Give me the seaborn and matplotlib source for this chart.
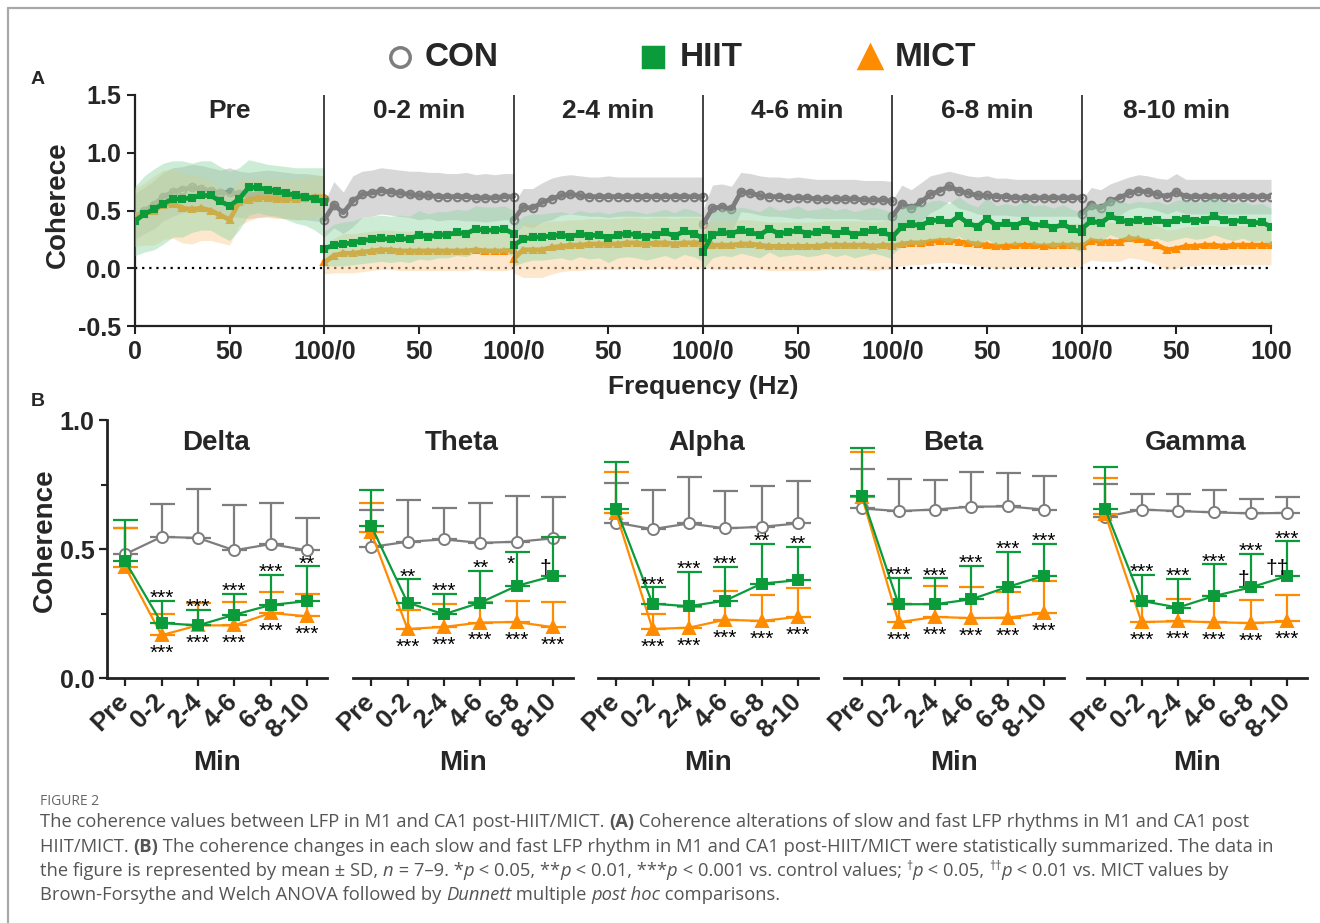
import numpy as np
import matplotlib
matplotlib.use("Agg")
import matplotlib.pyplot as plt
import matplotlib.transforms as mtransforms
import seaborn as sns
from matplotlib.lines import Line2D

sns.set_theme(style="ticks")
plt.rcParams['font.family'] = ['Liberation Sans', 'DejaVu Sans']

# ---------------- DATA ----------------
GROUPS = ['CON', 'HIIT', 'MICT']
SEGMENTS = ['Pre', '0-2 min', '2-4 min', '4-6 min', '6-8 min', '8-10 min']
FREQ_HZ = [0, 5, 10, 15, 20, 25, 30, 35, 40, 45, 50, 55, 60, 65, 70, 75, 80, 85, 90, 95, 100]
A_XTICK_LABELS = ['0', '50', '100/0', '50', '100/0', '50', '100/0', '50', '100/0', '50', '100/0', '50', '100']

A_CON_MEAN = [
    [0.45, 0.50, 0.55, 0.62, 0.66, 0.68, 0.70, 0.69, 0.67, 0.65, 0.66, 0.64, 0.63, 0.64, 0.65, 0.64, 0.63, 0.62, 0.62, 0.61, 0.60],
    [0.42, 0.55, 0.48, 0.58, 0.64, 0.65, 0.67, 0.66, 0.65, 0.64, 0.63, 0.63, 0.62, 0.62, 0.62, 0.62, 0.61, 0.61, 0.61, 0.62, 0.62],
    [0.42, 0.53, 0.52, 0.57, 0.60, 0.63, 0.64, 0.63, 0.62, 0.62, 0.62, 0.62, 0.62, 0.62, 0.62, 0.62, 0.62, 0.62, 0.62, 0.62, 0.62],
    [0.38, 0.52, 0.53, 0.51, 0.66, 0.65, 0.63, 0.62, 0.62, 0.61, 0.61, 0.61, 0.60, 0.60, 0.60, 0.60, 0.60, 0.59, 0.59, 0.59, 0.58],
    [0.45, 0.56, 0.52, 0.57, 0.64, 0.67, 0.71, 0.67, 0.65, 0.63, 0.63, 0.62, 0.62, 0.61, 0.61, 0.61, 0.61, 0.61, 0.61, 0.61, 0.61],
    [0.47, 0.55, 0.52, 0.58, 0.61, 0.65, 0.67, 0.66, 0.64, 0.62, 0.66, 0.62, 0.62, 0.62, 0.62, 0.62, 0.62, 0.62, 0.62, 0.62, 0.62],
]
A_CON_SD = [
    [0.20, 0.20, 0.21, 0.21, 0.21, 0.20, 0.20, 0.20, 0.20, 0.20, 0.21, 0.20, 0.20, 0.20, 0.20, 0.20, 0.20, 0.20, 0.20, 0.20, 0.20],
    [0.15, 0.20, 0.18, 0.22, 0.20, 0.20, 0.20, 0.20, 0.20, 0.20, 0.21, 0.20, 0.21, 0.20, 0.20, 0.21, 0.20, 0.21, 0.20, 0.20, 0.20],
    [0.14, 0.16, 0.17, 0.17, 0.18, 0.17, 0.17, 0.17, 0.17, 0.17, 0.18, 0.17, 0.17, 0.17, 0.17, 0.17, 0.17, 0.17, 0.17, 0.17, 0.17],
    [0.13, 0.20, 0.20, 0.20, 0.17, 0.17, 0.17, 0.17, 0.17, 0.17, 0.18, 0.17, 0.17, 0.17, 0.17, 0.17, 0.17, 0.17, 0.17, 0.17, 0.17],
    [0.14, 0.16, 0.16, 0.17, 0.16, 0.15, 0.13, 0.15, 0.15, 0.16, 0.17, 0.16, 0.16, 0.16, 0.16, 0.16, 0.16, 0.16, 0.16, 0.16, 0.16],
    [0.12, 0.15, 0.16, 0.15, 0.15, 0.14, 0.14, 0.14, 0.14, 0.15, 0.16, 0.15, 0.15, 0.15, 0.15, 0.15, 0.15, 0.15, 0.15, 0.15, 0.15],
]
A_HIIT_MEAN = [
    [0.41, 0.47, 0.51, 0.56, 0.60, 0.60, 0.61, 0.63, 0.63, 0.58, 0.54, 0.60, 0.70, 0.70, 0.68, 0.67, 0.65, 0.63, 0.62, 0.60, 0.57],
    [0.17, 0.20, 0.21, 0.22, 0.24, 0.25, 0.26, 0.25, 0.26, 0.25, 0.29, 0.27, 0.29, 0.29, 0.31, 0.30, 0.34, 0.33, 0.33, 0.34, 0.30],
    [0.20, 0.25, 0.27, 0.27, 0.28, 0.29, 0.27, 0.30, 0.28, 0.29, 0.26, 0.29, 0.30, 0.29, 0.27, 0.29, 0.31, 0.28, 0.32, 0.30, 0.26],
    [0.14, 0.29, 0.31, 0.30, 0.33, 0.31, 0.29, 0.34, 0.30, 0.31, 0.33, 0.30, 0.31, 0.33, 0.30, 0.32, 0.29, 0.31, 0.33, 0.31, 0.28],
    [0.27, 0.36, 0.38, 0.37, 0.41, 0.42, 0.39, 0.45, 0.39, 0.36, 0.43, 0.37, 0.39, 0.37, 0.41, 0.37, 0.38, 0.35, 0.38, 0.34, 0.31],
    [0.34, 0.41, 0.39, 0.45, 0.42, 0.40, 0.42, 0.41, 0.42, 0.39, 0.42, 0.43, 0.41, 0.42, 0.45, 0.42, 0.40, 0.42, 0.39, 0.40, 0.36],
]
A_HIIT_SD = [
    [0.30, 0.33, 0.35, 0.35, 0.33, 0.33, 0.30, 0.30, 0.30, 0.30, 0.30, 0.27, 0.24, 0.22, 0.22, 0.22, 0.23, 0.24, 0.25, 0.27, 0.30],
    [0.15, 0.18, 0.19, 0.19, 0.20, 0.20, 0.20, 0.20, 0.20, 0.20, 0.21, 0.20, 0.20, 0.20, 0.20, 0.20, 0.20, 0.20, 0.20, 0.20, 0.20],
    [0.18, 0.20, 0.20, 0.20, 0.20, 0.20, 0.20, 0.20, 0.20, 0.20, 0.21, 0.20, 0.20, 0.20, 0.20, 0.20, 0.20, 0.20, 0.20, 0.20, 0.20],
    [0.15, 0.20, 0.20, 0.20, 0.20, 0.20, 0.20, 0.20, 0.20, 0.20, 0.21, 0.20, 0.20, 0.20, 0.20, 0.20, 0.20, 0.20, 0.20, 0.20, 0.20],
    [0.15, 0.17, 0.17, 0.17, 0.17, 0.17, 0.17, 0.17, 0.17, 0.17, 0.18, 0.17, 0.17, 0.17, 0.17, 0.17, 0.17, 0.17, 0.17, 0.17, 0.17],
    [0.15, 0.16, 0.16, 0.16, 0.16, 0.16, 0.16, 0.16, 0.16, 0.16, 0.17, 0.16, 0.16, 0.16, 0.16, 0.16, 0.16, 0.16, 0.16, 0.16, 0.16],
]
A_MICT_MEAN = [
    [0.44, 0.47, 0.50, 0.55, 0.56, 0.52, 0.51, 0.52, 0.50, 0.46, 0.42, 0.57, 0.59, 0.61, 0.61, 0.60, 0.60, 0.60, 0.61, 0.62, 0.62],
    [0.05, 0.11, 0.13, 0.13, 0.14, 0.15, 0.16, 0.16, 0.15, 0.15, 0.15, 0.15, 0.15, 0.15, 0.15, 0.15, 0.16, 0.15, 0.15, 0.15, 0.16],
    [0.08, 0.16, 0.16, 0.16, 0.18, 0.19, 0.20, 0.20, 0.21, 0.21, 0.21, 0.21, 0.22, 0.22, 0.21, 0.22, 0.22, 0.21, 0.22, 0.22, 0.22],
    [0.19, 0.20, 0.20, 0.20, 0.21, 0.21, 0.20, 0.19, 0.19, 0.19, 0.19, 0.19, 0.19, 0.20, 0.20, 0.20, 0.20, 0.20, 0.19, 0.20, 0.20],
    [0.19, 0.21, 0.22, 0.22, 0.23, 0.24, 0.24, 0.23, 0.22, 0.21, 0.20, 0.19, 0.19, 0.20, 0.20, 0.20, 0.19, 0.20, 0.20, 0.20, 0.20],
    [0.19, 0.24, 0.23, 0.23, 0.23, 0.26, 0.25, 0.23, 0.20, 0.16, 0.17, 0.19, 0.19, 0.20, 0.20, 0.19, 0.20, 0.20, 0.20, 0.20, 0.20],
]
A_MICT_SD = [
    [0.25, 0.27, 0.30, 0.30, 0.30, 0.30, 0.30, 0.28, 0.26, 0.24, 0.22, 0.20, 0.18, 0.17, 0.17, 0.17, 0.17, 0.17, 0.18, 0.18, 0.18],
    [0.10, 0.15, 0.17, 0.17, 0.17, 0.17, 0.17, 0.17, 0.17, 0.17, 0.17, 0.17, 0.17, 0.17, 0.17, 0.17, 0.17, 0.17, 0.17, 0.17, 0.17],
    [0.12, 0.24, 0.24, 0.24, 0.23, 0.22, 0.22, 0.22, 0.22, 0.22, 0.22, 0.22, 0.22, 0.22, 0.22, 0.22, 0.22, 0.22, 0.22, 0.22, 0.22],
    [0.18, 0.21, 0.21, 0.21, 0.21, 0.21, 0.21, 0.21, 0.21, 0.21, 0.21, 0.21, 0.21, 0.21, 0.21, 0.21, 0.21, 0.21, 0.21, 0.21, 0.21],
    [0.18, 0.19, 0.19, 0.19, 0.19, 0.19, 0.19, 0.19, 0.19, 0.19, 0.19, 0.19, 0.19, 0.19, 0.19, 0.19, 0.19, 0.19, 0.19, 0.19, 0.19],
    [0.16, 0.17, 0.17, 0.17, 0.17, 0.17, 0.17, 0.17, 0.17, 0.17, 0.17, 0.17, 0.17, 0.17, 0.17, 0.17, 0.17, 0.17, 0.17, 0.17, 0.17],
]

BANDS = ['Delta', 'Theta', 'Alpha', 'Beta', 'Gamma']
MIN_LABELS = ['Pre', '0-2', '2-4', '4-6', '6-8', '8-10']
CON_MEAN = [
    [0.480, 0.547, 0.543, 0.495, 0.519, 0.495],
    [0.508, 0.528, 0.537, 0.524, 0.528, 0.541],
    [0.602, 0.577, 0.599, 0.580, 0.586, 0.599],
    [0.657, 0.647, 0.653, 0.664, 0.665, 0.653],
    [0.625, 0.653, 0.647, 0.642, 0.638, 0.640],
]
CON_SD = [
    [0.100, 0.126, 0.188, 0.174, 0.160, 0.127],
    [0.145, 0.162, 0.120, 0.153, 0.178, 0.159],
    [0.152, 0.150, 0.181, 0.143, 0.158, 0.164],
    [0.155, 0.123, 0.114, 0.136, 0.131, 0.131],
    [0.127, 0.060, 0.068, 0.086, 0.055, 0.060],
]
HIIT_MEAN = [
    [0.453, 0.213, 0.204, 0.245, 0.283, 0.298],
    [0.590, 0.292, 0.247, 0.292, 0.357, 0.395],
    [0.655, 0.288, 0.278, 0.300, 0.366, 0.379],
    [0.706, 0.286, 0.286, 0.305, 0.353, 0.396],
    [0.655, 0.299, 0.273, 0.318, 0.351, 0.395],
]
HIIT_SD = [
    [0.161, 0.086, 0.061, 0.082, 0.117, 0.135],
    [0.138, 0.090, 0.079, 0.123, 0.132, 0.150],
    [0.183, 0.063, 0.133, 0.132, 0.155, 0.129],
    [0.184, 0.102, 0.100, 0.130, 0.136, 0.124],
    [0.164, 0.102, 0.111, 0.122, 0.129, 0.135],
]
MICT_MEAN = [
    [0.431, 0.166, 0.204, 0.204, 0.252, 0.239],
    [0.564, 0.190, 0.198, 0.215, 0.217, 0.197],
    [0.638, 0.190, 0.195, 0.226, 0.221, 0.237],
    [0.700, 0.216, 0.237, 0.232, 0.234, 0.252],
    [0.635, 0.217, 0.220, 0.216, 0.213, 0.219],
]
MICT_SD = [
    [0.150, 0.084, 0.087, 0.091, 0.082, 0.086],
    [0.113, 0.075, 0.088, 0.080, 0.082, 0.097],
    [0.159, 0.060, 0.080, 0.110, 0.099, 0.112],
    [0.177, 0.070, 0.120, 0.121, 0.100, 0.123],
    [0.139, 0.080, 0.085, 0.100, 0.088, 0.104],
]
SIG_HIIT = [
    ['', '***', '***', '***', '***', '**'],
    ['', '**', '***', '**', '*', ''],
    ['', '***', '***', '***', '**', '**'],
    ['', '***', '***', '***', '***', '***'],
    ['', '***', '***', '***', '***', '***'],
]
SIG_MICT = [
    ['', '***', '***', '***', '***', '***'],
    ['', '***', '***', '***', '***', '***'],
    ['', '***', '***', '***', '***', '***'],
    ['', '***', '***', '***', '***', '***'],
    ['', '***', '***', '***', '***', '***'],
]
SIG_DAGGER = [
    ['', '', '', '', '', ''],
    ['', '', '', '', '', '†'],
    ['', '', '', '', '', ''],
    ['', '', '', '', '', ''],
    ['', '', '', '', '†', '††'],
]

# ---------------- STYLE ----------------
W, H = 1320, 923
C_GREY = '#7d7d7d'
C_GREEN = '#0b9b3a'
C_ORANGE = '#ff8c00'


def fx(px):
    return px / W


def fy(py):
    return 1 - py / H


fig = plt.figure(figsize=(W / 100, H / 100), dpi=100)
fig.patch.set_facecolor('white')

# border frame
fig.add_artist(Line2D([fx(8), fx(8)], [fy(8), -0.01], color='#a9a9a9', lw=1.6, transform=fig.transFigure))
fig.add_artist(Line2D([fx(8), 1.01], [fy(8), fy(8)], color='#a9a9a9', lw=1.6, transform=fig.transFigure))

# legend
leg_items = [(400, 'o', C_GREY, 'none', 14, 'CON', 425),
             (653, 's', C_GREEN, C_GREEN, 14, 'HIIT', 680),
             (870, '^', C_ORANGE, C_ORANGE, 16, 'MICT', 895)]
for (mx, mk, ec, fc, ms, lab, tx) in leg_items:
    fig.add_artist(Line2D([fx(mx)], [fy(57)], marker=mk, ms=ms, mfc=fc, mec=ec, mew=2.5,
                          ls='none', transform=fig.transFigure))
    fig.text(fx(tx), fy(57), lab, fontsize=24, fontweight='bold', ha='left', va='center')

fig.text(fx(38), fy(80), 'A', fontsize=14, fontweight='bold', ha='center', va='center')
fig.text(fx(38), fy(402), 'B', fontsize=14, fontweight='bold', ha='center', va='center')

# ---------------- PANEL A ----------------
axA = fig.add_axes([fx(135), fy(326), fx(1271) - fx(135), fy(95) - fy(326)])
series_A = [
    (A_CON_MEAN, A_CON_SD, C_GREY, '#cccccc', 0.75, 'o', 'none', 5.5),
    (A_MICT_MEAN, A_MICT_SD, C_ORANGE, '#fdd29c', 0.5, '^', C_ORANGE, 5),
    (A_HIIT_MEAN, A_HIIT_SD, C_GREEN, '#8fd6a6', 0.45, 's', C_GREEN, 4.5),
]
z = 2
for mean, sd, col, bcol, balpha, mk, mfc, ms in series_A:
    for s in range(len(SEGMENTS)):
        xs = np.array([s * 100 + f for f in FREQ_HZ])
        m = np.array(mean[s])
        d = np.array(sd[s])
        axA.fill_between(xs, m - d, m + d, color=bcol, alpha=balpha, lw=0, zorder=z)
        sns.lineplot(x=xs, y=m, ax=axA, color=col, linewidth=3.4, marker=mk, markersize=ms,
                     markerfacecolor=mfc, markeredgecolor=col, markeredgewidth=1.5, zorder=z + 1)
    z += 2

axA.set_xlim(0, 600)
axA.set_ylim(-0.5, 1.5)
axA.plot([0, 600], [0, 0], color='black', ls=(0, (1, 2.2)), lw=1.6, zorder=1)
for s in range(1, len(SEGMENTS)):
    axA.plot([s * 100, s * 100], [-0.5, 1.5], color='#222222', lw=1.2, zorder=10)
for s, title in enumerate(SEGMENTS):
    axA.text(s * 100 + 50, 1.36, title, ha='center', va='center', fontsize=19, fontweight='bold')
axA.set_xticks(list(range(0, 601, 50)))
axA.set_xticklabels(A_XTICK_LABELS, fontsize=18, fontweight='bold')
axA.set_yticks([-0.5, 0.0, 0.5, 1.0, 1.5])
axA.set_yticklabels(['-0.5', '0.0', '0.5', '1.0', '1.5'], fontsize=18, fontweight='bold')
for sp in ['top', 'right']:
    axA.spines[sp].set_visible(False)
for sp in ['left', 'bottom']:
    axA.spines[sp].set_linewidth(1.6)
    axA.spines[sp].set_color('#222222')
axA.tick_params(axis='both', length=6, width=1.5, color='#222222', pad=4)
axA.set_xlabel('')
axA.set_ylabel('')
fig.text(fx(58), fy(205), 'Coherece', rotation=90, fontsize=20, fontweight='bold', ha='center', va='center')
fig.text(fx(703), fy(387), 'Frequency (Hz)', fontsize=19, fontweight='bold', ha='center', va='center')

# ---------------- PANEL B ----------------
ax_lefts = [107, 353, 598, 844, 1087]
series_B = [
    (CON_MEAN, CON_SD, C_GREY, 'o', 'white', 8),
    (MICT_MEAN, MICT_SD, C_ORANGE, '^', C_ORANGE, 8.5),
    (HIIT_MEAN, HIIT_SD, C_GREEN, 's', C_GREEN, 7.5),
]
xpos = np.arange(len(MIN_LABELS))
label_shift = mtransforms.ScaledTranslation(5 / 100, 0, fig.dpi_scale_trans)
for b, band in enumerate(BANDS):
    ax = fig.add_axes([fx(ax_lefts[b]), fy(678), 220 / W, 258 / H])
    zz = 2
    for mean, sd, col, mk, mfc, ms in series_B:
        m = np.array(mean[b])
        d = np.array(sd[b])
        ax.errorbar(xpos, m, yerr=[np.zeros_like(d), d], fmt='none', ecolor=col,
                    elinewidth=1.6, capsize=9, capthick=1.6, zorder=zz)
        sns.lineplot(x=xpos, y=m, ax=ax, color=col, linewidth=1.6, marker=mk, markersize=ms,
                     markerfacecolor=mfc, markeredgecolor=col, markeredgewidth=1.4, zorder=zz + 1)
        zz += 2
    # significance marks
    for i in range(len(MIN_LABELS)):
        lab = SIG_HIIT[b][i]
        cap = HIIT_MEAN[b][i] + HIIT_SD[b][i]
        if lab == '*':
            ax.text(i - 0.15, cap - 0.07, lab, ha='center', va='baseline', fontsize=15, color='black', zorder=20)
        elif lab:
            ax.text(i, cap - 0.012, lab, ha='center', va='baseline', fontsize=15, color='black', zorder=20)
        lab = SIG_MICT[b][i]
        if lab:
            ax.text(i, MICT_MEAN[b][i] - 0.092, lab, ha='center', va='baseline', fontsize=15,
                    color='black', zorder=20)
        lab = SIG_DAGGER[b][i]
        if lab:
            off = -0.2 - 0.07 * (len(lab) - 1)
            ax.text(i + off, HIIT_MEAN[b][i] + 0.03, lab, ha='center', va='center', fontsize=15,
                    color='black', zorder=20)
    ax.text(2.5, 0.91, band, ha='center', va='center', fontsize=20, fontweight='bold')
    ax.set_xlim(-0.5, 5.55)
    ax.set_ylim(0, 1)
    ax.set_xticks(xpos)
    ax.set_xticklabels(MIN_LABELS, rotation=45, ha='right', va='center', rotation_mode='anchor',
                       fontsize=18.5, fontweight='bold')
    for tl in ax.get_xticklabels():
        tl.set_transform(tl.get_transform() + label_shift)
    ax.set_xlabel('')
    ax.set_ylabel('')
    ax.spines['top'].set_visible(False)
    ax.spines['right'].set_visible(False)
    ax.spines['bottom'].set_linewidth(2)
    ax.spines['bottom'].set_color('#222222')
    if b == 0:
        ax.spines['left'].set_linewidth(2)
        ax.spines['left'].set_color('#222222')
        ax.set_yticks([0, 0.5, 1.0])
        ax.set_yticklabels(['0.0', '0.5', '1.0'], fontsize=18, fontweight='bold')
        ax.set_yticks([0.25, 0.75], minor=True)
        ax.tick_params(axis='y', which='minor', length=4, width=1.5, color='#222222')
        ax.tick_params(axis='y', which='major', length=6, width=1.6, color='#222222', pad=3)
    else:
        ax.spines['left'].set_visible(False)
        ax.set_yticks([])
    ax.tick_params(axis='x', length=6, width=1.6, color='#222222', pad=8)
    ax.patch.set_alpha(0)
    ax.text(0.5, -0.33, 'Min', transform=ax.transAxes, ha='center', va='center', fontsize=20,
            fontweight='bold')

fig.text(fx(45), fy(540), 'Coherence', rotation=90, fontsize=20, fontweight='bold', ha='center', va='center')

# ---------------- CAPTION ----------------
CAP_FONT = ['Open Sans', 'DejaVu Sans']
CAP_COLOR = '#555555'
fig.text(fx(40), fy(805), 'FIGURE 2', fontsize=10, color='#666666', family=CAP_FONT, va='baseline')

caption_lines = [
    [('The coherence values between LFP in M1 and CA1 post-HIIT/MICT. ', ''), ('(A)', 'b'),
     (' Coherence alterations of slow and fast LFP rhythms in M1 and CA1 post', '')],
    [('HIIT/MICT. ', ''), ('(B)', 'b'),
     (' The coherence changes in each slow and fast LFP rhythm in M1 and CA1 post-HIIT/MICT were statistically summarized. The data in', '')],
    [('the figure is represented by mean \u00b1 SD, ', ''), ('n', 'i'), (' = 7\u20139. *', ''), ('p', 'i'),
     (' < 0.05, **', ''), ('p', 'i'), (' < 0.01, ***', ''), ('p', 'i'), (' < 0.001 vs. control values; ', ''),
     ('\u2020', 's'), ('p', 'i'), (' < 0.05, ', ''), ('\u2020\u2020', 's'), ('p', 'i'),
     (' < 0.01 vs. MICT values by', '')],
    [('Brown-Forsythe and Welch ANOVA followed by ', ''), ('Dunnett', 'i'), (' multiple ', ''),
     ('post hoc', 'i'), (' comparisons.', '')],
]
cap_baselines = [827, 852, 876, 900]
renderer = fig.canvas.get_renderer()
CAP_SIZE = 13.25
for line, yb in zip(caption_lines, cap_baselines):
    xcur = 40.0
    for txt, st in line:
        fs = CAP_SIZE
        dy = 0
        kw = {}
        if 'b' in st:
            kw['fontweight'] = 'bold'
        if 'i' in st:
            kw['fontstyle'] = 'italic'
        if 's' in st:
            fs = CAP_SIZE * 0.65
            dy = -6
        t = fig.text(fx(xcur), fy(yb + dy), txt, fontsize=fs, color=CAP_COLOR, family=CAP_FONT,
                     ha='left', va='baseline', **kw)
        bb = t.get_window_extent(renderer=renderer)
        xcur += bb.width

fig.savefig('out.png', dpi=100, facecolor='white')
